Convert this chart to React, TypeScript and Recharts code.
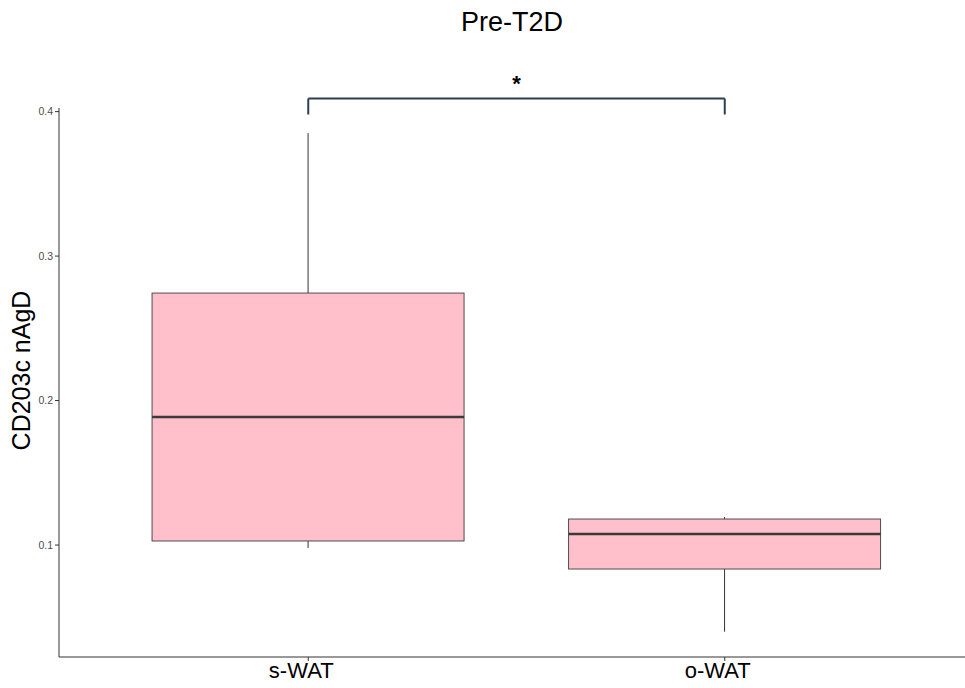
import React from 'react';
import { ComposedChart, Bar, XAxis, YAxis, ReferenceLine } from 'recharts';

const categories = ['s-WAT', 'o-WAT'];
const whiskerLow = [0.098, 0.040];
const q1 = [0.1028, 0.0834];
const median = [0.1886, 0.1076];
const q3 = [0.2744, 0.118];
const whiskerHigh = [0.3851, 0.1194];
const yTicks = [0.1, 0.2, 0.3, 0.4];
const yDomain = [0.0225, 0.4025];
const bracketY = 0.409;
const bracketFoot = 0.398;
const sigLabel = '*';
const title = 'Pre-T2D';
const yLabel = 'CD203c nAgD';

const data = categories.map((c, i) => ({
  category: c,
  box: [q1[i], q3[i]],
  low: whiskerLow[i],
  q1: q1[i],
  med: median[i],
  q3: q3[i],
  high: whiskerHigh[i],
}));

const FONT = '"Liberation Sans", Arial, Helvetica, sans-serif';

const BoxShape = (props: any) => {
  const { x, y, width, height, payload } = props;
  const top = height < 0 ? y + height : y;
  const h = Math.abs(height);
  const k = h / (payload.q3 - payload.q1);
  const toY = (v: number) => top + (payload.q3 - v) * k;
  const cx = x + width / 2;
  return (
    <g>
      <line x1={cx} x2={cx} y1={toY(payload.high)} y2={toY(payload.q3)} stroke="#333" strokeWidth={1} />
      <line x1={cx} x2={cx} y1={toY(payload.q1)} y2={toY(payload.low)} stroke="#333" strokeWidth={1} />
      <rect x={x} y={top} width={width} height={h} fill="#FFC0CB" stroke="#4d4d4d" strokeWidth={1} />
      <line x1={x} x2={x + width} y1={toY(payload.med)} y2={toY(payload.med)} stroke="#3a3a3a" strokeWidth={2.5} />
    </g>
  );
};

export default function App() {
  return (
    <div style={{ position: 'absolute', left: 0, top: 0, width: 965, height: 688, overflow: 'hidden', background: '#fff', fontFamily: FONT }}>
      <div style={{ position: 'absolute', left: 362, width: 300, top: 8, textAlign: 'center', fontSize: 27, lineHeight: '28px', color: '#000' }}>{title}</div>
      <ComposedChart width={990} height={688} data={data} margin={{ top: 108, right: 16, bottom: 0, left: 0 }} barCategoryGap="12.5%" style={{ fontFamily: FONT }}>
        <XAxis
          dataKey="category"
          padding={{ left: 41, right: 41 }}
          height={31}
          tickSize={4}
          tickMargin={1}
          axisLine={{ stroke: '#333', strokeWidth: 1 }}
          tickLine={{ stroke: '#333' }}
          tick={{ fontSize: 22, fill: '#000', dx: -7 }}
        />
        <YAxis
          type="number"
          domain={yDomain}
          ticks={yTicks}
          allowDataOverflow
          width={59}
          tickSize={4}
          tickMargin={2}
          axisLine={{ stroke: '#333', strokeWidth: 1 }}
          tickLine={{ stroke: '#333' }}
          tick={{ fontSize: 10.5, fill: '#4d4d4d' }}
          label={{
            content: (p: any) => {
              const vb = p.viewBox || {};
              const cx = 21;
              const cy = (vb.y || 0) + (vb.height || 0) / 2 - 12;
              return (
                <text x={cx} y={cy} transform={`rotate(-90 ${cx} ${cy})`} textAnchor="middle" dominantBaseline="central" fontSize={25} fill="#000" fontFamily={FONT}>
                  {yLabel}
                </text>
              );
            },
          }}
        />
        <Bar dataKey="box" shape={<BoxShape />} isAnimationActive={false} />
        <ReferenceLine
          segment={[{ x: categories[0], y: bracketY }, { x: categories[1], y: bracketY }]}
          ifOverflow="visible"
          stroke="#2c3e50"
          strokeWidth={2}
          label={{ value: sigLabel, position: 'top', offset: 8, fontSize: 22, fill: '#000', fontWeight: 'bold' }}
        />
        <ReferenceLine
          segment={[{ x: categories[0], y: bracketY }, { x: categories[0], y: bracketFoot }]}
          ifOverflow="visible"
          stroke="#2c3e50"
          strokeWidth={2}
        />
        <ReferenceLine
          segment={[{ x: categories[1], y: bracketY }, { x: categories[1], y: bracketFoot }]}
          ifOverflow="visible"
          stroke="#2c3e50"
          strokeWidth={2}
        />
      </ComposedChart>
    </div>
  );
}
